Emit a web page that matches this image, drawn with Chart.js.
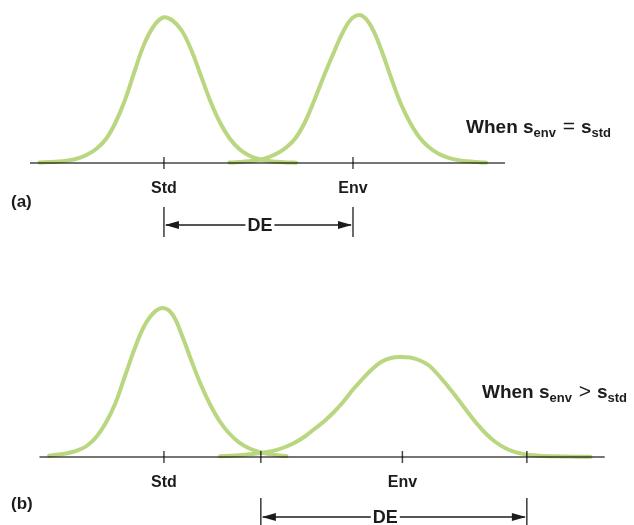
<!DOCTYPE html>
<html>
<head>
<meta charset="utf-8">
<script src="https://cdn.jsdelivr.net/npm/chart.js@4"></script>
<style>
  html, body { margin: 0; padding: 0; background: #fff; }
  #wrap { position: relative; width: 634px; height: 525px; overflow: hidden; }
  .panel { position: absolute; left: 0; width: 634px; }
</style>
</head>
<body>
<div id="wrap">
  <div class="panel" style="top:0;height:260px"><canvas id="chartA" width="634" height="260"></canvas></div>
  <div class="panel" style="top:260px;height:265px"><canvas id="chartB" width="634" height="265"></canvas></div>
</div>
<script>
// ---- data (x in arbitrary units, y in % of the tallest peak) ----
const tickLabels = ["Std", "Env"];
const panelLabels = ["(a)", "(b)"];
const deLabel = "DE";

// panel (a): equal spreads
const stdAX = [0.5, 1, 1.5, 2, 2.5, 3, 3.5, 4, 4.5, 5, 5.5, 6, 6.5, 7, 7.5, 8, 8.5, 9, 9.5, 10, 10.5, 11, 11.5, 12, 12.5, 13, 13.5, 14];
const stdAY = [0.3, 0.6, 1.0, 1.7, 3.0, 5.5, 9.5, 16, 27, 42, 61, 79, 91, 97, 95, 88, 75, 58, 41, 27, 16.5, 9.5, 5.2, 2.8, 1.5, 0.8, 0.4, 0.2];
const envAX = [10.5, 11, 11.5, 12, 12.5, 13, 13.5, 14, 14.5, 15, 15.5, 16, 16.5, 17, 17.5, 18, 18.5, 19, 19.5, 20, 20.5, 21, 21.5, 22, 22.5, 23, 23.5, 24];
const envAY = [0.3, 0.6, 1.1, 2.0, 3.6, 6.3, 10.5, 17, 28, 43, 59, 74, 88, 97, 98, 90, 75, 57, 40, 27, 17, 10.5, 6.2, 3.6, 2.0, 1.1, 0.6, 0.3];
const axisA = [0, 25];
const ticksA = [7.05, 17.0];
const deA = [7.05, 17.0, 12.1];        // from, to, label position
const captionA = ["When ", "s", "env", " = ", "s", "std"];
const captionAX = 22.95;

// panel (b): environmental spread wider
const stdBX = [1, 1.5, 2, 2.5, 3, 3.5, 4, 4.5, 5, 5.5, 6, 6.5, 7, 7.5, 8, 8.5, 9, 9.5, 10, 10.5, 11, 11.5, 12, 12.5, 13, 13.5];
const stdBY = [0.9, 1.6, 2.6, 4.4, 7.5, 13.5, 23, 36, 54, 72, 87, 96, 99.3, 95, 81, 64, 48, 34.5, 23.5, 15.5, 9.8, 6.0, 3.6, 2.1, 1.2, 0.6];
const envBX = [10, 10.5, 11, 11.5, 12, 12.5, 13, 13.5, 14, 14.5, 15, 15.5, 16, 16.5, 17, 17.5, 18, 18.5, 19, 19.5, 20, 20.5, 21, 21.5, 22, 22.5, 23, 23.5, 24, 24.5, 25, 25.5, 26, 26.5, 27, 27.5, 28, 28.5, 29, 29.5];
const envBY = [0.5, 0.8, 1.2, 1.8, 2.5, 3.4, 4.8, 7, 10, 14, 19, 24, 30, 37, 45, 52, 58.5, 63.5, 66, 66.7, 66.3, 64.5, 61, 54.5, 47, 39, 30.5, 22.5, 15.5, 10, 6, 3.4, 1.9, 1.1, 0.7, 0.5, 0.35, 0.25, 0.15, 0.1];
const axisB = [0.5, 30.25];
const ticksB = [7.05, 12.15, 19.6, 26.15];
const labelTicksB = [7.05, 19.6];
const deB = [12.15, 26.15, 18.7];
const captionB = ["When ", "s", "env", " > ", "s", "std"];
const captionBX = 23.79;

const CURVE = "rgb(186, 214, 128)";
const INK = "#1c1c1c";
const FONT = "'Liberation Sans', Arial, Helvetica, sans-serif";

function pts(xs, ys) {
  return xs.map((x, i) => ({ x, y: ys[i] }));
}

function line(ctx, x1, y1, x2, y2) {
  ctx.beginPath();
  ctx.moveTo(x1, y1);
  ctx.lineTo(x2, y2);
  ctx.stroke();
}

function arrowHead(ctx, tipX, y, dir) {
  // dir = -1 points left, +1 points right
  ctx.beginPath();
  ctx.moveTo(tipX, y);
  ctx.lineTo(tipX - dir * 14, y - 4);
  ctx.lineTo(tipX - dir * 14, y + 4);
  ctx.closePath();
  ctx.fill();
}

const sketchPlugin = {
  id: "sketch",
  afterDatasetsDraw(chart, args, o) {
    const { ctx, scales: { x, y } } = chart;
    const y0 = y.getPixelForValue(0);
    const px = v => x.getPixelForValue(v);
    ctx.save();

    // baseline and tick marks, multiplied over the curves
    ctx.globalCompositeOperation = "multiply";
    ctx.strokeStyle = "#464646";
    ctx.lineWidth = 1.6;
    line(ctx, px(o.axis[0]), y0, px(o.axis[1]), y0);
    ctx.lineWidth = 1.5;
    o.ticks.forEach(v => line(ctx, px(v), y0 - 6, px(v), y0 + 6));
    ctx.globalCompositeOperation = "source-over";

    // Std / Env labels
    ctx.fillStyle = INK;
    ctx.font = "bold 16px " + FONT;
    ctx.textAlign = "center";
    ctx.textBaseline = "alphabetic";
    o.labelTicks.forEach((v, i) => ctx.fillText(tickLabels[i], px(v), y0 + 30));

    // panel letter
    ctx.textAlign = "left";
    ctx.font = "bold 17px " + FONT;
    ctx.fillText(o.panel, 11, y0 + o.panelDy);

    // DE dimension
    const [from, to, mid] = o.de;
    const x1 = px(from), x2 = px(to), xm = px(mid);
    const ya = y0 + o.deDy;
    ctx.strokeStyle = INK;
    ctx.lineWidth = 1.3;
    line(ctx, x1, ya - o.deBar[0], x1, ya + o.deBar[1]);
    line(ctx, x2, ya - o.deBar[0], x2, ya + o.deBar[1]);
    ctx.font = "bold 18px " + FONT;
    const w = ctx.measureText(deLabel).width;
    line(ctx, x1 + 2, ya, xm - w / 2 - 2, ya);
    line(ctx, xm + w / 2 + 2, ya, x2 - 2, ya);
    ctx.fillStyle = INK;
    arrowHead(ctx, x1 + 1, ya, -1);
    arrowHead(ctx, x2 - 1, ya, 1);
    ctx.textAlign = "center";
    ctx.textBaseline = "middle";
    ctx.fillText(deLabel, xm, ya + 1);

    // caption with subscripts
    ctx.textAlign = "left";
    ctx.textBaseline = "alphabetic";
    let cx = px(o.captionX);
    const cy = o.captionY;
    o.caption.forEach((t, i) => {
      const sub = i === 2 || i === 5;
      const op = i === 3;
      ctx.font = sub ? "bold 13px " + FONT : (op ? "21px " + FONT : "bold 19px " + FONT);
      ctx.fillText(t, cx, sub ? cy + 4 : cy);
      cx += ctx.measureText(t).width + (sub ? 1 : 0);
    });

    ctx.restore();
  }
};

function makeChart(id, std, env, pad, opts) {
  return new Chart(document.getElementById(id), {
    type: "line",
    data: {
      datasets: [std, env].map(d => ({
        data: d,
        borderColor: CURVE,
        borderWidth: 4,
        borderCapStyle: "round",
        borderJoinStyle: "round",
        pointRadius: 0,
        fill: false,
        tension: 0.4,
        clip: false
      }))
    },
    options: {
      responsive: false,
      devicePixelRatio: 1,
      animation: false,
      events: [],
      layout: { padding: pad },
      scales: {
        x: { type: "linear", min: 0, max: 30, display: false },
        y: { type: "linear", min: 0, max: 100, display: false }
      },
      plugins: {
        legend: { display: false },
        tooltip: { enabled: false },
        sketch: opts
      }
    },
    plugins: [sketchPlugin]
  });
}

makeChart("chartA", pts(stdAX, stdAY), pts(envAX, envAY),
  { left: 30, right: 34, top: 13, bottom: 97 },
  {
    axis: axisA, ticks: ticksA, labelTicks: ticksA, panel: panelLabels[0], panelDy: 44,
    de: deA, deDy: 62, deBar: [18, 12],
    caption: captionA, captionX: captionAX, captionY: 133
  });

makeChart("chartB", pts(stdBX, stdBY), pts(envBX, envBY),
  { left: 30, right: 34, top: 47, bottom: 68 },
  {
    axis: axisB, ticks: ticksB, labelTicks: labelTicksB, panel: panelLabels[1], panelDy: 52,
    de: deB, deDy: 60, deBar: [19, 12],
    caption: captionB, captionX: captionBX, captionY: 138
  });
</script>
</body>
</html>
